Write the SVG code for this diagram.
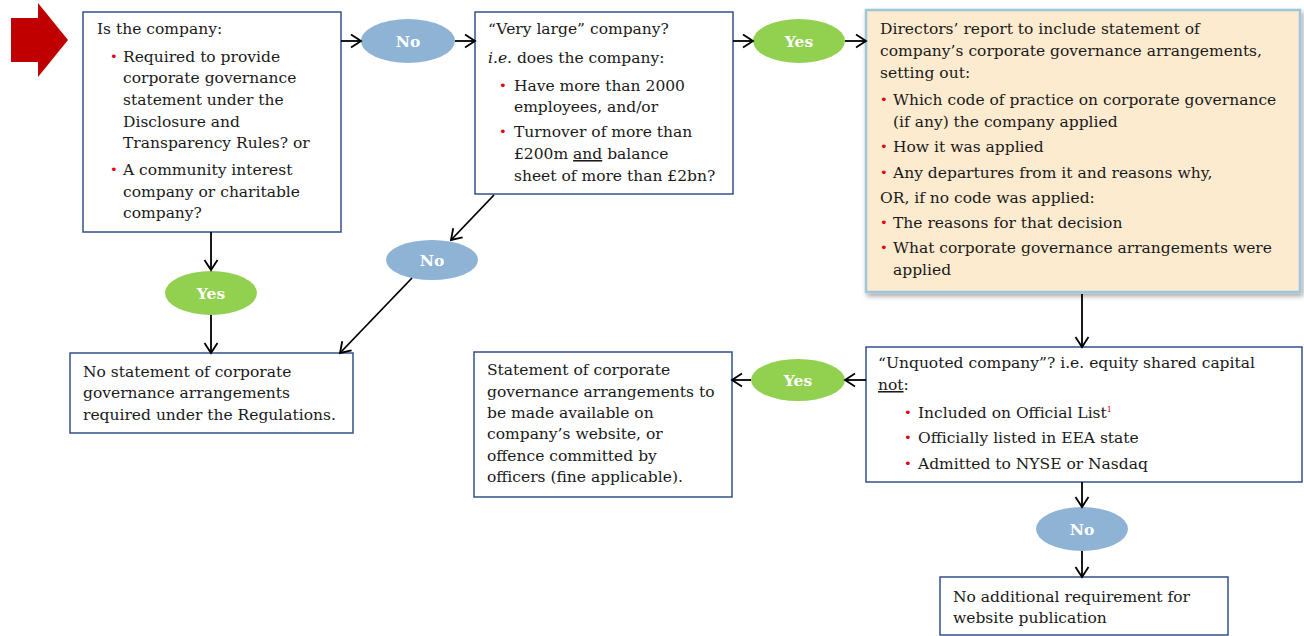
<svg xmlns="http://www.w3.org/2000/svg" width="1304" height="636" viewBox="0 0 1304 636">
<style>
.box{fill:#fff;stroke:#34508a;stroke-width:1.5}
.t{font-family:"DejaVu Serif","Liberation Serif",serif;font-size:15.5px;fill:#1a1a1a}
.b{font-family:"DejaVu Sans",sans-serif;font-size:13px;fill:#e3000f}
.lbl{font-family:"DejaVu Serif","Liberation Serif",serif;font-size:15.5px;font-weight:bold;fill:#fff;text-anchor:middle}
.no{fill:#8fb3d5}
.yes{fill:#92d050}
.c{stroke:#000;stroke-width:1.8;fill:none;marker-end:url(#ah)}
.u{text-decoration:underline}
</style>
<defs>
<marker id="ah" markerUnits="userSpaceOnUse" markerWidth="14" markerHeight="16" refX="12" refY="8" orient="auto">
<path d="M2,1.5 L12,8 L2,14.5" fill="none" stroke="#000" stroke-width="1.8"/>
</marker>
<filter id="sh" x="-5%" y="-5%" width="112%" height="115%">
<feDropShadow dx="2" dy="3" stdDeviation="2.5" flood-color="#000" flood-opacity="0.35"/>
</filter>
</defs>

<g id="start-arrow">
<polygon points="11,18 38,18 38,3 68,40 38,77 38,62 11,62" fill="#c00000"/>
</g>

<g id="q1">
<rect class="box" x="83" y="12" width="258" height="220"/>
<text class="t" x="97" y="34">Is the company:</text>
<text class="b" x="110" y="61">•</text>
<text class="t" x="123" y="62">Required to provide</text>
<text class="t" x="123" y="83">corporate governance</text>
<text class="t" x="123" y="105">statement under the</text>
<text class="t" x="123" y="127">Disclosure and</text>
<text class="t" x="123" y="148">Transparency Rules? or</text>
<text class="b" x="110" y="174">•</text>
<text class="t" x="123" y="175">A community interest</text>
<text class="t" x="123" y="197">company or charitable</text>
<text class="t" x="123" y="218">company?</text>
</g>

<g id="q2">
<rect class="box" x="475" y="12" width="258" height="182"/>
<text class="t" x="488" y="34">“Very large” company?</text>
<text class="t" x="488" y="63"><tspan font-style="italic">i.e.</tspan> does the company:</text>
<text class="b" x="499" y="90">•</text>
<text class="t" x="514" y="91">Have more than 2000</text>
<text class="t" x="514" y="112">employees, and/or</text>
<text class="b" x="499" y="136">•</text>
<text class="t" x="514" y="137">Turnover of more than</text>
<text class="t" x="514" y="159">£200m <tspan class="u">and</tspan> balance</text>
<text class="t" x="514" y="181">sheet of more than £2bn?</text>
</g>

<g id="directors-report">
<rect x="866" y="10" width="434" height="282" fill="#fdebcf" stroke="#9fc6dc" stroke-width="2.5" filter="url(#sh)"/>
<text class="t" x="880" y="34">Directors’ report to include statement of</text>
<text class="t" x="880" y="56">company’s corporate governance arrangements,</text>
<text class="t" x="880" y="78">setting out:</text>
<text class="b" x="880" y="104">•</text>
<text class="t" x="893" y="105">Which code of practice on corporate governance</text>
<text class="t" x="893" y="127">(if any) the company applied</text>
<text class="b" x="880" y="151">•</text>
<text class="t" x="893" y="152">How it was applied</text>
<text class="b" x="880" y="177">•</text>
<text class="t" x="893" y="178">Any departures from it and reasons why,</text>
<text class="t" x="880" y="203">OR, if no code was applied:</text>
<text class="b" x="880" y="227">•</text>
<text class="t" x="893" y="228">The reasons for that decision</text>
<text class="b" x="880" y="252">•</text>
<text class="t" x="893" y="253">What corporate governance arrangements were</text>
<text class="t" x="893" y="275">applied</text>
</g>

<g id="no-statement">
<rect class="box" x="70" y="353" width="283" height="80"/>
<text class="t" x="83" y="377">No statement of corporate</text>
<text class="t" x="83" y="398">governance arrangements</text>
<text class="t" x="83" y="420">required under the Regulations.</text>
</g>

<g id="website-statement">
<rect class="box" x="474" y="352" width="258" height="145"/>
<text class="t" x="487" y="375">Statement of corporate</text>
<text class="t" x="487" y="397">governance arrangements to</text>
<text class="t" x="487" y="418">be made available on</text>
<text class="t" x="487" y="439">company’s website, or</text>
<text class="t" x="487" y="461">offence committed by</text>
<text class="t" x="487" y="482">officers (fine applicable).</text>
</g>

<g id="unquoted">
<rect class="box" x="866" y="347" width="436" height="135"/>
<text class="t" x="878" y="368">“Unquoted company”? i.e. equity shared capital</text>
<text class="t" x="878" y="390"><tspan class="u">not</tspan>:</text>
<text class="b" x="904" y="417">•</text>
<text class="t" x="918" y="418">Included on Official List<tspan font-size="8" dy="-6" fill="#e3000f">1</tspan></text>
<text class="b" x="904" y="442">•</text>
<text class="t" x="918" y="443">Officially listed in EEA state</text>
<text class="b" x="904" y="468">•</text>
<text class="t" x="918" y="469">Admitted to NYSE or Nasdaq</text>
</g>

<g id="no-additional">
<rect class="box" x="940" y="577" width="288" height="58"/>
<text class="t" x="953" y="602">No additional requirement for</text>
<text class="t" x="953" y="623">website publication</text>
</g>

<g id="label-no-1"><ellipse class="no" cx="408" cy="41" rx="47" ry="22"/><text class="lbl" x="408" y="46.5">No</text></g>
<g id="label-yes-1"><ellipse class="yes" cx="799" cy="41" rx="46" ry="22"/><text class="lbl" x="799" y="46.5">Yes</text></g>
<g id="label-yes-2"><ellipse class="yes" cx="211" cy="293" rx="46" ry="22"/><text class="lbl" x="211" y="298.5">Yes</text></g>
<g id="label-no-2"><ellipse class="no" cx="432" cy="260" rx="46" ry="20"/><text class="lbl" x="432" y="265.5">No</text></g>
<g id="label-yes-3"><ellipse class="yes" cx="798" cy="380" rx="47" ry="21"/><text class="lbl" x="798" y="385.5">Yes</text></g>
<g id="label-no-3"><ellipse class="no" cx="1082" cy="529" rx="46" ry="22"/><text class="lbl" x="1082" y="534.5">No</text></g>

<g id="connectors">
<line class="c" x1="341" y1="41" x2="361" y2="41"/>
<line class="c" x1="455" y1="41" x2="475" y2="41"/>
<line class="c" x1="733" y1="41" x2="753" y2="41"/>
<line class="c" x1="845" y1="41" x2="866" y2="41"/>
<line class="c" x1="211" y1="232" x2="211" y2="270"/>
<line class="c" x1="211" y1="315" x2="211" y2="353"/>
<line class="c" x1="494" y1="195" x2="451" y2="240"/>
<line class="c" x1="412" y1="278" x2="340" y2="353"/>
<line class="c" x1="1082" y1="294" x2="1082" y2="347"/>
<line class="c" x1="866" y1="380" x2="845" y2="380"/>
<line class="c" x1="751" y1="380" x2="732" y2="380"/>
<line class="c" x1="1082" y1="482" x2="1082" y2="507"/>
<line class="c" x1="1082" y1="551" x2="1082" y2="577"/>
</g>
</svg>
